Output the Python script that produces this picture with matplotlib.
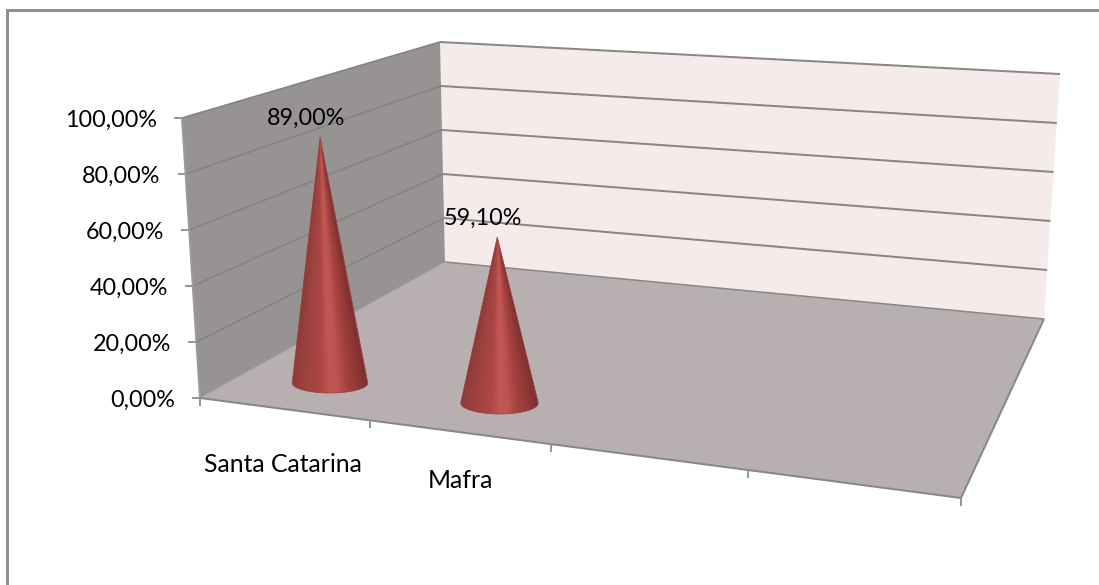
import numpy as np
import matplotlib
matplotlib.use('Agg')
import matplotlib.pyplot as plt
from matplotlib.colors import to_rgb
from matplotlib.patches import Polygon

# Chart values
categories = ['Santa Catarina', 'Mafra']
values = [89.0, 59.1]
value_labels = ['89,00%', '59,10%']
axis_ticks = [0, 20, 40, 60, 80, 100]
axis_labels = ['0,00%', '20,00%', '40,00%', '60,00%', '80,00%', '100,00%']

# Perspective frame of the 3D box, in pixels
FRONT_LEFT = (200, 398)
BACK_LEFT = (445, 262)
BACK_RIGHT = (1044, 319)
FRONT_RIGHT = (961, 498)
FRONT_SCALE = 2.8
BACK_LEFT_SCALE = 2.2
BACK_RIGHT_SCALE = 2.45
FRONT_LEAN = -0.18
BACK_LEFT_LEAN = -0.05
BACK_RIGHT_LEAN = 0.16
LEAN_CENTER = 588
LEAN_RATE = 0.00043

# Cone placement: base centre x, base centre y, radii, pixels per percent
CONE_X = [330, 499.5]
CONE_Y = [383, 403]
CONE_RX = [37.8, 38.8]
CONE_RY = [10, 11]
CONE_SCALE = [2.76, 2.81]

GRID = '#878886'
FONT = 'Lato'
FS = 16.8
CAT_FS = 17.8


def wall_point(corner, scale, lean, v):
    return corner[0] + lean * v, corner[1] - scale * v


def front_pt(v):
    return wall_point(FRONT_LEFT, FRONT_SCALE, FRONT_LEAN, v)


def back_left_pt(v):
    return wall_point(BACK_LEFT, BACK_LEFT_SCALE, BACK_LEFT_LEAN, v)


def back_right_pt(v):
    return wall_point(BACK_RIGHT, BACK_RIGHT_SCALE, BACK_RIGHT_LEAN, v)


def seg(ax, a, b, lw=2, color=GRID, z=3):
    ax.plot([a[0], b[0]], [a[1], b[1]], color=color, lw=lw * 0.72,
            solid_capstyle='butt', zorder=z)


def draw_cone(ax, cx, cy, rx, ry, height, lean):
    # shading runs across the cone and narrows towards the tip
    stops = [-1.0, -0.6, -0.25, 0.0, 0.2, 0.45, 0.8, 0.97, 1.0]
    cols = ['#8d3b39', '#a04341', '#ab4644', '#c25855', '#bd5451',
            '#a5423f', '#8a3634', '#7c302e', '#994240']
    rgb = np.array([to_rgb(c) for c in cols])

    apex_x, apex_y = cx + lean, cy - height
    x0, x1 = cx - rx - 2, cx + rx + 2
    y0, y1 = apex_y - 2, cy + ry + 2
    xs = np.linspace(x0, x1, int((x1 - x0) * 3))
    ys = np.linspace(y0, y1, int((y1 - y0) * 3))
    xx, yy = np.meshgrid(xs, ys)
    t = np.clip((yy - apex_y) / height, 0.004, 1.0)
    u = np.clip((xx - (apex_x + (cx - apex_x) * t)) / (rx * t), -1, 1)
    img = np.dstack([np.interp(u, stops, rgb[:, i]) for i in range(3)])
    im = ax.imshow(img, extent=(x0, x1, y1, y0), aspect='auto', zorder=5,
                   interpolation='bilinear')

    th = np.linspace(0, np.pi, 60)
    outline = [(apex_x, apex_y)]
    outline += [(cx + rx * np.cos(a), cy + ry * np.sin(a)) for a in th]
    clip = Polygon(outline, closed=True, transform=ax.transData,
                   facecolor='none', edgecolor='none')
    ax.add_patch(clip)
    im.set_clip_path(clip)
    ax.add_patch(Polygon(outline, closed=True, facecolor='none',
                         edgecolor='#9a3c3a', lw=0.5, zorder=6))
    return apex_x, apex_y


fig = plt.figure(figsize=(10.99, 5.85), dpi=100)
ax = fig.add_axes([0, 0, 1, 1])
ax.axis('off')

# outer chart frame, open towards the right and bottom
ax.plot([6.5, 6.5, 1099], [585, 10, 10], color='#8e8e8e', lw=3 * 0.72,
        solid_joinstyle='miter', zorder=1)

# walls and floor
ax.add_patch(Polygon([back_left_pt(0), back_left_pt(100), back_right_pt(100), back_right_pt(0)],
                     closed=True, facecolor='#f6ebeb', edgecolor='none', zorder=2))
ax.add_patch(Polygon([front_pt(0), front_pt(100), back_left_pt(100), back_left_pt(0)],
                     closed=True, facecolor='#979392', edgecolor='none', zorder=2))
ax.add_patch(Polygon([FRONT_LEFT, BACK_LEFT, BACK_RIGHT, FRONT_RIGHT],
                     closed=True, facecolor='#b8b0b0', edgecolor='none', zorder=2))

# gridlines across both walls, with the value axis ticks on the front edge
for tick, label in zip(axis_ticks, axis_labels):
    fx, fy = front_pt(tick)
    if tick > 0:
        seg(ax, front_pt(tick), back_left_pt(tick), lw=1.7, color='#848583')
        seg(ax, back_left_pt(tick), back_right_pt(tick))
    seg(ax, (fx - 8, fy), (fx, fy), lw=2, color='#969696')
    ax.text(fx - 25, fy + 2.5, label, ha='right', va='center',
            family=FONT, fontsize=FS, color='#000000', zorder=8)

seg(ax, front_pt(0), front_pt(100), lw=2, color='#9a9a9a')
seg(ax, BACK_LEFT, BACK_RIGHT, lw=1.5)
seg(ax, FRONT_LEFT, BACK_LEFT, lw=1, color='#a5a1a1')
seg(ax, FRONT_LEFT, FRONT_RIGHT, lw=2)
seg(ax, FRONT_RIGHT, BACK_RIGHT, lw=2)

# category axis ticks along the front of the floor
cat_tick_x = [200, 370, 551, 748, 961]
for tx in cat_tick_x:
    frac = (tx - FRONT_LEFT[0]) / (FRONT_RIGHT[0] - FRONT_LEFT[0])
    ty = FRONT_LEFT[1] + frac * (FRONT_RIGHT[1] - FRONT_LEFT[1])
    seg(ax, (tx, ty), (tx, ty + 8), lw=2, color='#969696')

# cones and their value labels
for i, v in enumerate(values):
    height = v * CONE_SCALE[i]
    lean = LEAN_RATE * (CONE_X[i] - LEAN_CENTER) * v
    apex_x, apex_y = draw_cone(ax, CONE_X[i], CONE_Y[i], CONE_RX[i], CONE_RY[i], height, lean)
    ax.text(apex_x - 14.5, apex_y - 19, value_labels[i], ha='center', va='center',
            family=FONT, fontsize=FS, color='#000000', zorder=8)

cat_x = [283, 460]
cat_y = [465, 481]
for name, x, y in zip(categories, cat_x, cat_y):
    ax.text(x, y, name, ha='center', va='center', family=FONT, fontsize=CAT_FS,
            color='#000000', zorder=8)

ax.set_xlim(0, 1099)
ax.set_ylim(585, 0)

fig.savefig('out.png', dpi=100, facecolor='white')
plt.close(fig)
